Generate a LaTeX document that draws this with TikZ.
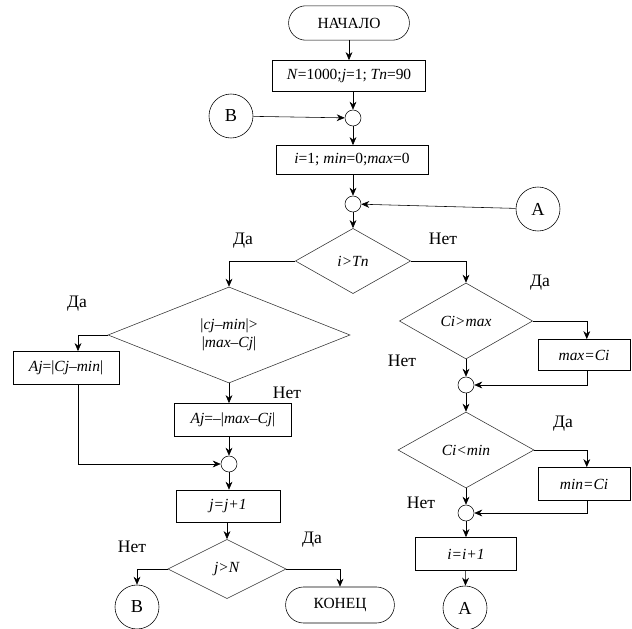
\documentclass[tikz,border=0pt]{standalone}
\usepackage{fontspec}
\setmainfont{Liberation Serif}
\usetikzlibrary{shapes.geometric, arrows.meta}

\begin{document}
\begin{tikzpicture}[x=0.025cm, y=-0.025cm,
        every node/.style={font=\fontsize{11}{12.5}\selectfont},
        term/.style={draw, thin, rounded corners=0.43cm, minimum height=0.86cm, inner sep=0pt},
        proc/.style={draw, thin, minimum height=0.8cm, inner sep=0pt},
        cond/.style={draw, thin, black!80, text=black, diamond, inner sep=0pt, align=center},
        junc/.style={draw, thin, circle, minimum size=0.4cm, inner sep=0pt},
        conn/.style={draw, thin, circle, minimum size=1.1cm, inner sep=0pt, font=\fontsize{13}{14}\selectfont},
        lbl/.style={font=\fontsize{12.5}{14}\selectfont},
        arr/.style={->, >={Stealth[length=2mm, width=1.7mm]}, thin}
    ]
        \useasboundingbox (0,0) rectangle (632,629);

        % top column
        \node[term, minimum width=3.02cm] (start) at (349, 23) {НАЧАЛО};
        \node[proc, minimum width=3.82cm, minimum height=0.78cm] (init1) at (349, 76)
            {\textit{N}=1000;\textit{j}=1; \textit{Tn}=90};
        \node[junc] (j1) at (353, 118) {};
        \node[conn] (inB) at (231, 116) {B};
        \node[proc, minimum width=3.8cm, minimum height=0.73cm] (init2) at (352, 160)
            {\textit{i}=1; \textit{min}=0;\textit{max}=0};
        \node[junc] (j2) at (353, 204) {};
        \node[conn] (inA) at (538, 209) {A};
        \node[cond, minimum width=2.88cm, minimum height=1.63cm] (q1) at (353, 261) {\textit{i>Tn}};

        % left branch
        \node[cond, minimum width=6.05cm, minimum height=2.4cm] (q2) at (229, 335)
            {|\textit{cj}–\textit{min}|>\\|\textit{max}–\textit{Cj}|};
        \node[proc, minimum width=2.65cm, minimum height=0.83cm] (aMin) at (66, 368)
            {\textit{Aj}=|\textit{Cj}–\textit{min}|};
        \node[proc, minimum width=2.92cm, minimum height=0.83cm] (aMax) at (233, 420)
            {\textit{Aj}=–|\textit{max}–\textit{Cj}|};
        \node[junc] (j3) at (229, 464) {};
        \node[proc, minimum width=2.6cm] (incJ) at (228, 506) {\textit{j=j+1}};
        \node[cond, minimum width=2.95cm, minimum height=1.48cm] (q4) at (227, 569) {\textit{j>N}};
        \node[conn] (outB) at (137, 607) {B};
        \node[term, minimum width=2.72cm, minimum height=0.9cm, rounded corners=0.45cm] (stop) at (340, 605) {КОНЕЦ};

        % right branch
        \node[cond, minimum width=3.33cm, minimum height=1.9cm] (q3) at (466, 321) {\textit{Ci>max}};
        \node[proc, minimum width=2.3cm, minimum height=0.78cm] (setMax) at (584, 355) {\textit{max=Ci}};
        \node[junc] (j4) at (466, 385) {};
        \node[cond, minimum width=3.4cm, minimum height=1.9cm] (q5) at (466, 450) {\textit{Ci<min}};
        \node[proc, minimum width=2.3cm, minimum height=0.83cm] (setMin) at (584, 484) {\textit{min=Ci}};
        \node[junc] (j5) at (466, 513) {};
        \node[proc, minimum width=2.52cm, minimum height=0.83cm] (incI) at (466, 554) {\textit{i=i+1}};
        \node[conn] (outA) at (465, 608) {A};

        % labels
        \node[lbl] (l1) at (243, 241) {Да};
        \node[lbl] (l2) at (443, 239) {Нет};
        \node[lbl] (l3) at (77, 304) {Да};
        \node[lbl] (l4) at (287, 393) {Нет};
        \node[lbl] (l5) at (540, 283) {Да};
        \node[lbl] (l6) at (402, 361) {Нет};
        \node[lbl] (l7) at (563, 424) {Да};
        \node[lbl] (l8) at (421, 503) {Нет};
        \node[lbl] (l9) at (132, 547) {Нет};
        \node[lbl] (l10) at (312, 540) {Да};

        % connectors
        \draw[arr] (start) -- (init1);
        \draw[arr] (init1.south -| j1) -- (j1);
        \draw[arr] (inB) -- (j1);
        \draw[arr] (j1) -- (init2.north -| j1);
        \draw[arr] (init2.south -| j2) -- (j2);
        \draw[arr] (inA) -- (j2);
        \draw[arr] (j2) -- (q1);
        \draw[arr] (q1.west) -| (q2.north);
        \draw[arr] (q1.east) -| (q3.north);
        \draw[arr] (q2.west) -| ([xshift=0.3cm]aMin.north);
        \draw[arr] ([xshift=0.3cm]aMin.south) |- (j3.west);
        \draw[arr] (q2.south) -- (aMax.north -| q2.south);
        \draw[arr] (aMax.south -| j3) -- (j3);
        \draw[arr] (j3) -- (incJ.north -| j3);
        \draw[arr] (incJ.south -| q4.north) -- (q4.north);
        \draw[arr] (q4.west) -| (outB.north);
        \draw[arr] (q4.east) -| (stop.north);
        \draw[arr] (q3.east) -| ([xshift=0.07cm]setMax.north);
        \draw[arr] ([xshift=0.07cm]setMax.south) |- (j4.east);
        \draw[arr] (q3.south) -- (j4);
        \draw[arr] (j4) -- (q5.north);
        \draw[arr] (q5.east) -| ([xshift=0.07cm]setMin.north);
        \draw[arr] ([xshift=0.07cm]setMin.south) |- (j5.east);
        \draw[arr] (q5.south) -- (j5);
        \draw[arr] (j5) -- (incI);
        \draw[arr] (incI) -- (outA);
    \end{tikzpicture}
\end{document}
